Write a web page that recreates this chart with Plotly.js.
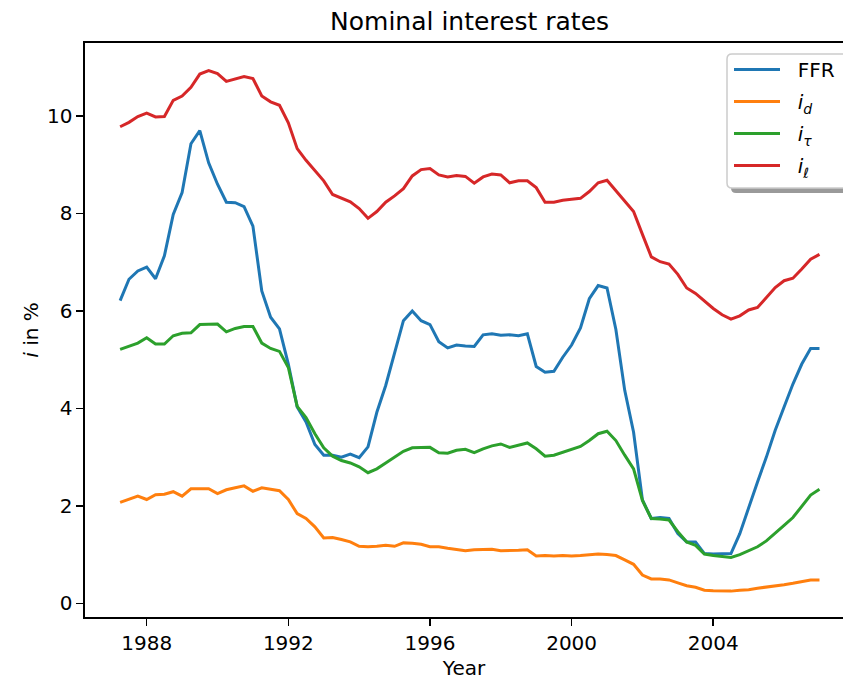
<!DOCTYPE html>
<html>
<head>
<meta charset="utf-8">
<script src="https://cdn.plot.ly/plotly-3.0.1.min.js"></script>
<style>html,body{margin:0;padding:0;background:#fff;}</style>
</head>
<body>
<div id="chart" style="width:843px;height:680px;"></div>
<script>
// Quarterly observations, 1987Q1 .. 2006Q4 (plotted at quarter end)
const firstYear = 1987;
const nQuarters = 80;
const quarterDates = [];
for (let i = 0; i < nQuarters; i++) quarterDates.push(firstYear + 0.25 * (i + 1));

const ffr = [6.21,6.65,6.82,6.90,6.66,7.13,7.98,8.43,9.43,9.70,
             9.04,8.60,8.23,8.22,8.14,7.74,6.41,5.87,5.63,4.91,
             4.03,3.72,3.26,3.04,3.04,3.00,3.06,2.99,3.21,3.92,
             4.47,5.15,5.80,6.00,5.80,5.72,5.37,5.24,5.30,5.28,
             5.27,5.51,5.53,5.50,5.51,5.49,5.53,4.86,4.74,4.76,
             5.05,5.30,5.65,6.25,6.52,6.47,5.62,4.37,3.51,2.12,
             1.74,1.76,1.74,1.43,1.26,1.26,1.02,1.01,1.01,1.02,
             1.43,1.98,2.49,3.00,3.55,4.03,4.50,4.91,5.23,5.23];

const iD = [2.07,2.13,2.20,2.13,2.23,2.24,2.29,2.20,2.35,2.35,
            2.35,2.25,2.33,2.37,2.41,2.30,2.37,2.34,2.31,2.13,
            1.84,1.74,1.57,1.34,1.35,1.31,1.26,1.17,1.16,1.17,
            1.19,1.17,1.24,1.23,1.21,1.16,1.16,1.13,1.11,1.08,
            1.10,1.11,1.11,1.08,1.08,1.09,1.10,0.97,0.98,0.97,
            0.98,0.97,0.98,1.00,1.01,1.00,0.98,0.89,0.80,0.58,
            0.50,0.50,0.48,0.42,0.36,0.33,0.27,0.26,0.26,0.25,
            0.27,0.28,0.31,0.33,0.35,0.38,0.41,0.44,0.48,0.48];

const iTau = [5.21,5.27,5.34,5.45,5.32,5.32,5.49,5.54,5.55,5.72,
              5.73,5.73,5.57,5.64,5.68,5.68,5.34,5.23,5.17,4.84,
              4.04,3.81,3.48,3.19,3.02,2.93,2.88,2.80,2.68,2.76,
              2.88,3.00,3.12,3.19,3.20,3.20,3.09,3.08,3.14,3.16,
              3.09,3.17,3.23,3.27,3.20,3.24,3.29,3.17,3.02,3.04,
              3.10,3.17,3.22,3.34,3.48,3.53,3.34,3.04,2.76,2.11,
              1.74,1.73,1.71,1.47,1.26,1.19,1.01,0.98,0.96,0.94,
              1.00,1.08,1.16,1.28,1.43,1.60,1.76,1.98,2.22,2.34];

const iEll = [9.78,9.87,9.99,10.06,9.98,9.99,10.32,10.41,10.59,10.86,
              10.93,10.87,10.71,10.76,10.81,10.77,10.41,10.29,10.22,9.86,
              9.33,9.09,8.88,8.67,8.39,8.32,8.24,8.10,7.90,8.04,
              8.23,8.36,8.51,8.77,8.90,8.92,8.79,8.75,8.78,8.76,
              8.62,8.75,8.81,8.79,8.63,8.67,8.67,8.53,8.23,8.23,
              8.27,8.29,8.31,8.45,8.63,8.68,8.47,8.27,8.04,7.57,
              7.11,7.01,6.96,6.75,6.47,6.36,6.21,6.05,5.92,5.83,
              5.90,6.02,6.07,6.28,6.48,6.62,6.67,6.86,7.06,7.16];

const seriesNames = ['FFR', '<i>i</i><sub><i>d</i></sub>', '<i>i</i><sub><i>τ</i></sub>', '<i>i</i><sub><i>ℓ</i></sub>'];
const seriesValues = [ffr, iD, iTau, iEll];
const seriesColors = ['#1f77b4', '#ff7f0e', '#2ca02c', '#d62728'];

const xTickVals = [1988, 1992, 1996, 2000, 2004];
const xTickText = ['1988', '1992', '1996', '2000', '2004'];
const yTickVals = [0, 2, 4, 6, 8, 10];
const yTickText = ['0', '2', '4', '6', '8', '10'];

const traces = seriesValues.map((vals, k) => ({
  type: 'scatter', mode: 'lines',
  x: quarterDates, y: vals,
  name: '\u00a0\u00a0' + seriesNames[k],
  legendgroup: 'g' + k,
  line: {color: seriesColors[k], width: 3},
  hoverinfo: 'x+y'
}));

// geometry helpers (pixel -> paper) for the legend frame and its shadow
const M = {l: 85, r: 0, t: 43, b: 63};
const W = 843, H = 680;
const pw = W - M.l - M.r, ph = H - M.t - M.b;
const px = v => (v - M.l) / pw;
const py = v => (H - M.b - v) / ph;
function roundedLeftRect(x0, x1, yt, yb, r) {
  const rx = r / pw, ry = r / ph;
  const X0 = px(x0), X1 = px(x1), YT = py(yt), YB = py(yb);
  return 'M' + (X0 + rx) + ',' + YT + ' L' + X1 + ',' + YT + ' L' + X1 + ',' + YB +
         ' L' + (X0 + rx) + ',' + YB + ' Q' + X0 + ',' + YB + ' ' + X0 + ',' + (YB + ry) +
         ' L' + X0 + ',' + (YT - ry) + ' Q' + X0 + ',' + YT + ' ' + (X0 + rx) + ',' + YT + ' Z';
}

const layout = {
  width: W, height: H,
  margin: {l: M.l, r: M.r, t: M.t, b: M.b, pad: 0, autoexpand: false},
  paper_bgcolor: '#ffffff', plot_bgcolor: '#ffffff',
  font: {family: 'DejaVu Sans', size: 20, color: '#000000'},
  title: {text: 'Nominal interest rates', font: {size: 25, color: '#000000'},
          x: 0.557, xanchor: 'center', xref: 'container', y: 0.969, yanchor: 'middle', yref: 'container'},
  showlegend: true,
  legend: {x: px(729), y: py(50), xanchor: 'left', yanchor: 'top',
           bgcolor: 'rgba(0,0,0,0)', borderwidth: 0,
           font: {size: 20, color: '#000000'}, traceorder: 'grouped', tracegroupgap: 3,
           itemwidth: 46},
  xaxis: {
    range: [1986.258, 2007.664], showgrid: false, zeroline: false,
    showline: true, linecolor: '#000000', linewidth: 1.6, mirror: true,
    ticks: 'outside', ticklen: 7, tickwidth: 1.6, tickcolor: '#000000',
    tickvals: xTickVals, ticktext: xTickText, tickfont: {size: 20},
    title: {text: 'Year', font: {size: 20}, standoff: 10}
  },
  yaxis: {
    range: [-0.281, 11.498], showgrid: false, zeroline: false,
    showline: true, linecolor: '#000000', linewidth: 1.6, mirror: false,
    ticks: 'outside', ticklen: 7, tickwidth: 1.6, tickcolor: '#000000',
    tickvals: yTickVals, ticktext: yTickText, tickfont: {size: 20},
    title: {text: '<i>i</i> in %', font: {size: 20}, standoff: 3}
  },
  shapes: [
    {type: 'path', xref: 'paper', yref: 'paper', layer: 'above',
     path: roundedLeftRect(731, 880, 59, 193, 5),
     fillcolor: '#9a9a9a', line: {width: 0}},
    {type: 'path', xref: 'paper', yref: 'paper', layer: 'above',
     path: roundedLeftRect(727, 880, 54, 188, 5),
     fillcolor: '#ffffff', line: {color: '#cccccc', width: 1.5}}
  ]
};

Plotly.newPlot('chart', traces, layout, {displayModeBar: false, staticPlot: true});
</script>
</body>
</html>
